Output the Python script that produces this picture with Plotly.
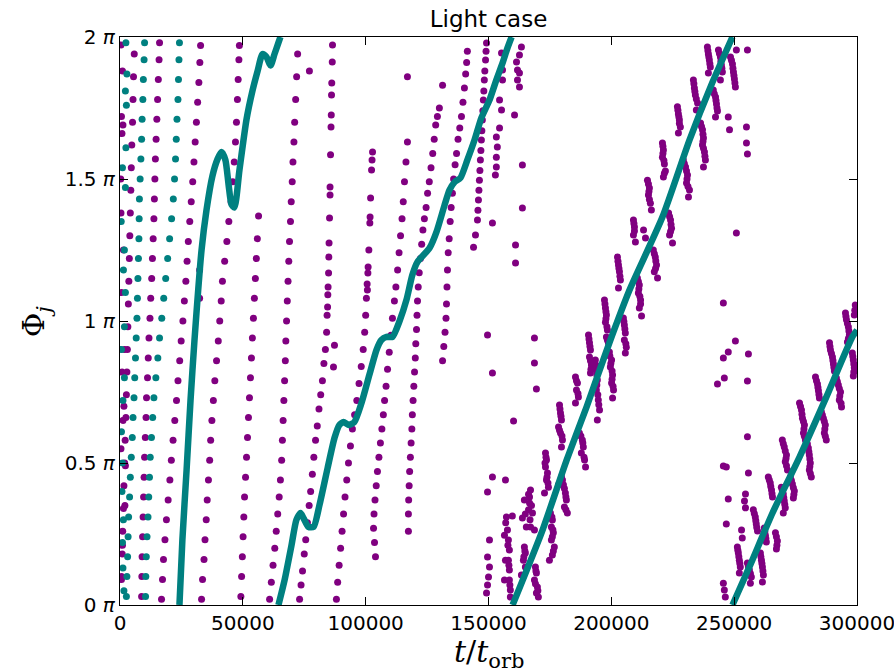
import plotly.graph_objects as go

# time in units of 1000 t_orb, phase Phi_j in units of pi
# ---------------- teal (heavy) body: isolated early dots ----------------
teal_edge = [(1.6,0.05),(1.2,0.13),(1.0,0.22),(1.4,0.30),(0.8,0.40),(1.0,0.50),(0.6,0.61),(1.2,0.72),
             (1.8,0.80),(0.6,0.90),(1.8,0.98),(2.2,1.10),(1.4,1.18),(1.8,1.25),(0.5,1.35),(2.2,1.47),
             (1.0,1.54),(2.4,1.61),(2.6,1.76),(2.2,1.81),(2.8,1.87),(2.4,1.98)]
teal_wrap1 = [(2.6,0.03),(2.8,0.10),(3.1,0.17),(3.3,0.24),(3.5,0.31),(3.9,0.38),(4.2,0.45),(4.6,0.52),
              (5.0,0.59),(5.3,0.66),(5.7,0.73),(6.0,0.80),(6.3,0.87),(6.6,0.94),(6.9,1.01),(7.1,1.08),
              (7.3,1.15),(7.5,1.22),(7.7,1.29),(7.8,1.36),(7.9,1.43),(8.2,1.50),(8.5,1.57),(8.8,1.64),
              (9.0,1.71),(9.3,1.78),(9.5,1.85),(9.8,1.92),(10.0,1.98)]
teal_wrap2 = [(10.4,0.03),(10.5,0.10),(10.7,0.17),(11.0,0.24),(11.4,0.31),(11.7,0.38),(12.0,0.45),(12.3,0.52),
              (12.8,0.59),(13.3,0.66),(13.8,0.73),(14.6,0.80),(15.4,0.87),(16.1,0.94),(17.0,1.01),(17.8,1.08),
              (18.6,1.15),(19.4,1.22),(20.2,1.29),(21.0,1.36),(21.7,1.43),(22.2,1.50),(22.6,1.57),(22.9,1.64),
              (23.2,1.71),(23.6,1.78),(23.8,1.85),(24.0,1.92),(24.2,1.98)]
# ---------------- teal body: dense track (one list per 2*pi wrap) ----------------
teal_track1 = [(24.2,0.0),(25.4,0.23),(27.1,0.475),(28.7,0.72),(30.3,0.93),(33.2,1.25),(35.2,1.39),(37.6,1.51),
               (39.7,1.57),(41.3,1.595),(42.9,1.567),(44.2,1.48),(45.4,1.41),(46.6,1.40),(48.6,1.53),(51.5,1.71),
               (53.9,1.81),(56.0,1.88),(58.0,1.94),(59.6,1.93),(61.3,1.90),(62.9,1.94),(64.5,1.98),(65.3,2.0)]
teal_track2 = [(64.5,0.0),(67.0,0.088),(69.8,0.21),(71.8,0.30),(73.5,0.324),(74.7,0.306),(76.7,0.275),(78.8,0.275),
               (81.2,0.352),(84.5,0.482),(87.3,0.588),(89.3,0.634),(91.0,0.644),(93.0,0.634),(95.4,0.644),(98.3,0.711),
               (101.5,0.81),(104.4,0.898),(106.4,0.933),(108.5,0.944),(110.9,0.944),(113.8,1.0),(116.6,1.074),
               (119.0,1.162),(121.1,1.208),(123.5,1.232),(126.0,1.257),(128.8,1.313),(132.1,1.408),(134.1,1.461),
               (136.2,1.489),(138.6,1.504),(141.4,1.567),(144.3,1.637),(147.1,1.715),(150.4,1.778),(153.2,1.849),
               (155.7,1.908),(157.7,1.961),(159.4,2.0)]
teal_track3 = [(159.8,0.0),(172.0,0.264),(181.8,0.51),(189.9,0.697),(199.2,0.923),(207.4,1.109),(220.8,1.366),
               (231.8,1.637),(240.7,1.831),(249.3,2.0)]
teal_track4 = [(249.3,0.0),(256.2,0.134),(265.6,0.324),(276.6,0.521),(287.5,0.732),(298.1,0.944),(300.0,0.968)]

# ---------------- purple (light) body ----------------
pur_edge = [(0.4,1.972),(1.0,1.88),(0.6,1.72),(1.2,1.69),(0.8,1.66),(0.4,1.38),(1.4,1.25),(0.6,1.10),(1.8,0.90),
            (0.8,0.82),(1.2,0.65),(0.4,0.55),(2.0,0.35),(1.0,0.21),(0.6,0.09),(1.6,0.70),(2.2,0.49),(0.3,1.50)]
pur_s1 = [(0.6,0.10),(0.9,0.18),(1.1,0.26),(1.4,0.34),(1.6,0.42),(1.9,0.50),(2.1,0.58),(2.4,0.66),(2.6,0.74),
          (2.8,0.82),(3.0,0.90),(3.2,0.98),(3.4,1.06),(3.6,1.14),(3.8,1.22),(4.0,1.30),(4.2,1.38),(4.4,1.46),
          (4.6,1.54),(4.8,1.62),(5.1,1.70),(5.3,1.78),(5.5,1.86),(5.8,1.94)]
pur_s2 = [(8.8,0.03),(8.9,0.10),(9.0,0.17),(9.2,0.24),(9.4,0.31),(9.6,0.38),(9.8,0.45),(10.0,0.52),(10.3,0.59),
          (10.6,0.66),(10.8,0.73),(11.2,0.80),(11.5,0.87),(11.8,0.94),(12.2,1.01),(12.5,1.08),(12.9,1.15),
          (13.2,1.22),(13.5,1.29),(13.8,1.36),(14.0,1.43),(14.2,1.50),(14.4,1.57),(14.7,1.64),(15.0,1.71),
          (15.3,1.78),(15.6,1.85),(15.9,1.92),(16.1,1.98)]
pur_s3 = [(16.9,0.02),(17.3,0.09),(17.7,0.16),(18.3,0.23),(18.9,0.30),(19.6,0.37),(20.3,0.44),(20.9,0.51),
          (21.6,0.58),(22.3,0.65),(23.0,0.72),(23.6,0.79),(24.3,0.86),(24.9,0.93),(25.6,1.00),(26.2,1.07),
          (26.8,1.14),(27.3,1.21),(27.8,1.28),(28.4,1.35),(29.0,1.42),(29.6,1.49),(30.1,1.56),(30.6,1.63),
          (31.1,1.70),(31.6,1.77),(32.1,1.84),(32.5,1.91),(32.8,1.97),(32.4,1.18),(32.4,1.08)]
pur_s4 = [(33.2,0.02),(33.6,0.09),(34.2,0.16),(34.6,0.23),(35.1,0.30),(35.5,0.37),(36.0,0.44),(36.5,0.51),
          (36.9,0.58),(37.4,0.65),(38.0,0.72),(38.6,0.79),(39.3,0.86),(40.0,0.93),(40.6,1.00),(41.2,1.07),
          (41.7,1.14),(42.6,1.21),(43.5,1.28),(44.3,1.35),(45.2,1.42),(45.9,1.49),(46.5,1.56),(47.0,1.63),
          (47.4,1.70),(47.8,1.78),(48.1,1.85),(48.4,1.92),(48.6,1.97)]
pur_s5 = [(49.2,0.03),(49.5,0.10),(49.8,0.17),(50.1,0.24),(50.4,0.31),(50.7,0.38),(51.1,0.45),(51.5,0.52),
          (51.9,0.59),(52.3,0.66),(52.7,0.73),(53.1,0.80),(53.5,0.87),(53.9,0.94),(54.3,1.01),(54.7,1.08),
          (55.1,1.15),(55.5,1.22),(55.9,1.29),(56.4,1.37)]
pur_s6 = [(60.9,0.02),(61.6,0.08),(62.3,0.14),(63.0,0.20),(63.6,0.26),(64.2,0.32),(64.8,0.38),(65.3,0.44),
          (65.8,0.51),(66.1,0.58),(66.4,0.65),(66.7,0.72),(67.0,0.79),(67.3,0.86),(67.5,0.93),(67.8,1.00),
          (68.1,1.07),(68.4,1.14),(68.7,1.21),(69.0,1.28),(69.4,1.35),(69.7,1.42),(70.1,1.49),(70.4,1.56),
          (70.8,1.63),(71.1,1.70),(71.5,1.78),(71.9,1.86),(72.3,1.94),(77.1,1.88)]
pur_s7 = [(73.1,0.02),(73.7,0.07),(74.3,0.12),(75.0,0.18),(75.6,0.23),(76.3,0.29),(77.0,0.35),(77.6,0.40),
          (78.3,0.46),(78.9,0.52),(79.6,0.58),(80.3,0.63),(81.0,0.69),(81.7,0.74),(82.4,0.79),(83.0,0.85),
          (83.6,0.90),(84.1,0.96),(84.3,1.02),(84.5,1.049),(84.6,1.092),(84.7,1.12),(84.9,1.169),(85.0,1.225),
          (85.1,1.275),(85.3,1.363),(85.5,1.444),(85.5,1.472),(85.7,1.585),(85.9,1.683),(86.0,1.725),
          (86.1,1.796),(86.2,1.838),(86.4,1.912),(86.5,1.972),(87.3,0.915),(86.9,0.838)]
pur_s8 = [(88.1,0.02),(88.6,0.08),(89.2,0.14),(89.8,0.20),(90.4,0.26),(91.0,0.32),(91.6,0.38),(92.3,0.44),
          (93.0,0.50),(93.8,0.56),(94.6,0.62),(95.5,0.67),(96.4,0.72),(97.3,0.78),(98.2,0.84),(99.0,0.90),
          (99.6,0.96),(100.0,1.02),(100.3,1.08),(100.6,1.13),(100.7,1.109),(100.9,1.169),(101.0,1.19),
          (101.3,1.25),(101.7,1.345),(101.8,1.366),(102.0,1.433),(102.4,1.532),(102.6,1.567),(102.8,1.595)]
pur_s9 = [(104.0,0.17),(103.6,0.22),(103.2,0.27),(103.4,0.32),(103.8,0.37),(104.3,0.42),(104.8,0.47),(105.4,0.52),
          (106.0,0.57),(106.6,0.62),(107.2,0.67),(107.7,0.72),(108.3,0.77),(108.9,0.83),(109.6,0.89),(110.3,0.95),
          (110.9,1.01),(111.7,1.07),(112.3,1.12),(113.0,1.18),(113.6,1.24),(114.2,1.30),(114.8,1.36),(115.3,1.42),
          (115.8,1.49),(116.4,1.56),(117.0,1.63),(117.0,1.86)]
pur_s10 = [(117.4,0.26),(117.4,0.32),(117.5,0.37),(117.7,0.42),(117.9,0.47),(118.2,0.52),(118.5,0.57),(118.8,0.62),
           (119.0,0.67),(119.3,0.72),(119.6,0.77),(119.9,0.82),(120.2,0.87),(120.4,0.92),(120.7,0.97),(120.9,1.02),
           (121.1,1.07),(121.4,1.12),(121.8,1.17),(122.3,1.22),(122.8,1.27),(123.3,1.32),(123.9,1.36),(124.6,1.40),
           (125.2,1.45),(125.9,1.49),(126.6,1.54),(127.3,1.59),(127.9,1.64),(128.5,1.69),(129.2,1.72),(130.0,1.75),
           (131.3,1.83)]
pur_s11 = [(131.3,0.86),(131.8,0.91),(132.3,0.96),(132.7,1.01),(132.9,1.06),(133.1,1.12),(133.3,1.18),(133.6,1.24),
           (134.0,1.29),(134.4,1.35),(134.8,1.40),(135.3,1.45),(135.8,1.50),(136.4,1.55),(137.0,1.59),(137.6,1.64),
           (138.3,1.68),(139.0,1.72),(139.6,1.77),(140.2,1.82),(140.7,1.87),(141.1,1.91),(141.4,1.95)]
pur_s12 = [(143.9,1.26),(144.7,1.303),(145.5,1.356),(145.7,1.39),(145.9,1.426),(146.1,1.46),(146.3,1.496),
           (146.5,1.53),(146.7,1.567),(146.9,1.60),(147.1,1.637),(147.3,1.67),(147.5,1.708),(147.7,1.74),
           (147.9,1.778),(148.1,1.81),(148.3,1.849),(148.5,1.88),(148.8,1.919),(149.0,1.95),(149.2,1.979)]
pur_s13 = [(155.3,1.944),(155.7,1.884),(155.7,1.849),(154.5,1.778),(155.3,1.743),(154.5,1.68),(153.2,1.648),
           (153.6,1.613),(153.2,1.577),(153.2,1.542),(152.8,1.514),(163.4,1.965),(162.6,1.937),(161.4,1.912),
           (161.8,1.884),(162.6,1.873),(161.8,1.849),(162.6,1.824),(160.6,1.725),(163.8,1.549),(163.8,1.398),
           (161.0,1.268),(161.0,1.204),(151.6,1.345)]
pur_scatter_mid = [(149.6,0.951),(151.6,0.817),(160.2,0.648),(151.6,0.451),(149.6,0.398),(156.9,0.44),
                   (150.4,0.229),(149.6,0.169),(150.4,0.134),(150.0,0.099),(149.6,0.07),(149.2,0.042),
                   (168.7,0.94),(168.7,0.852),(169.5,0.761),(159.7,0.313)]
# cloud hugging the third teal wrap
pur_cloud3 = [(157.3,0.31),(157.7,0.264),(158.1,0.229),(158.5,0.194),(158.1,0.158),(158.5,0.123),(158.5,0.088),
              (158.9,0.053),(158.9,0.028),(156.5,0.246),(156.9,0.158),(156.5,0.088),
              (167.1,0.405),(166.7,0.38),(166.7,0.359),(166.3,0.335),(167.9,0.324),(167.1,0.275),(165.4,0.275),
              (163.8,0.306),(168.7,0.264),(164.6,0.37),
              (164.6,0.204),(165.0,0.183),(164.2,0.158),(165.0,0.134),(163.4,0.106),
              (169.1,0.134),(169.5,0.113),(168.7,0.088),(169.9,0.063),(169.5,0.042),(170.3,0.028),
              (173.2,0.535),(173.6,0.511),(173.2,0.486),(174.0,0.465),(173.6,0.44),(174.4,0.415),(172.8,0.394),
              (175.2,0.324),(176.0,0.299),(175.6,0.275),(176.4,0.254),(175.6,0.229),(176.8,0.204),(176.0,0.176),(174.8,0.158),
              (178.9,0.704),(179.3,0.676),(179.7,0.651),(178.5,0.627),(179.3,0.606),(180.1,0.581),(179.7,0.556),
              (179.7,0.451),(180.5,0.423),(181.3,0.394),(181.7,0.37),(180.9,0.345),(182.1,0.324),(178.5,0.423),
              (185.4,0.803),(186.2,0.782),(185.8,0.757),(186.6,0.732),(185.4,0.711),
              (187.0,0.606),(188.2,0.581),(188.6,0.556),(187.8,0.535),(189.1,0.511),(189.5,0.486),
              (190.7,0.951),(191.1,0.923),(191.5,0.898),(191.1,0.873),(191.9,0.845),(191.5,0.817),
              (193.5,0.863),(193.9,0.827),(194.3,0.792),(193.9,0.757),(194.7,0.722),(195.2,0.687),(194.3,0.651),
              (197.2,1.074),(197.6,1.046),(198.0,1.021),(197.6,0.996),(198.4,0.968),(198.0,0.944),(198.8,0.923),
              (199.2,0.891),(200.1,0.863),(199.6,0.838),(200.5,0.81),(200.1,0.782),(200.9,0.757),(200.5,0.729),
              (202.5,1.225),(202.9,1.197),(203.3,1.173),(203.7,1.144),(202.9,1.116),
              (204.9,1.011),(205.3,0.986),(205.7,0.958),(205.3,0.933),(206.1,0.908),(205.7,0.887),
              (210.6,1.151),(211.4,1.127),(211.0,1.099),(211.9,1.074),(211.4,1.046),(212.3,1.018),
              (209.0,1.356),(209.4,1.331),(209.0,1.303),(209.8,1.278),(213.1,1.32),(213.9,1.292),
              (214.7,1.496),(215.5,1.468),(215.1,1.444),(215.9,1.415),(216.3,1.391),
              (217.1,1.25),(217.9,1.225),(218.4,1.197),(217.5,1.173),(218.8,1.151),
              (220.8,1.627),(221.2,1.602),(220.8,1.577),(221.6,1.553),(222.0,1.528),(221.2,1.507),
              (223.3,1.38),(224.1,1.356),(224.5,1.327),(223.7,1.303),(224.9,1.275),
              (226.9,1.754),(227.3,1.729),(227.7,1.708),(228.1,1.683),(227.3,1.662),
              (229.3,1.567),(230.2,1.542),(231.0,1.514),(230.6,1.486),(231.8,1.461),(231.4,1.437),
              (233.4,1.849),(233.8,1.82),(234.2,1.796),(235.1,1.768),(234.6,1.743),
              (236.3,1.697),(237.1,1.673),(237.5,1.644),(237.1,1.62),(237.9,1.595),(238.3,1.567),(237.5,1.542),
              (239.1,1.965),(239.5,1.94),(239.9,1.919),(240.3,1.894),(239.5,1.873),
              (241.5,1.813),(242.4,1.789),(242.8,1.764),(243.2,1.739),(242.4,1.718),
              (243.6,1.954),(244.4,1.93),(244.8,1.901),(245.2,1.877),(244.4,1.849),
              (248.5,1.93),(249.3,1.905),(249.7,1.877),(250.1,1.852),(250.5,1.824)]
pur_cloud3_more = [(157.0,0.29),(157.9,0.21),(158.3,0.14),(158.7,0.07),(166.3,0.39),(167.5,0.35),(166.9,0.30),
                   (165.0,0.32),(164.8,0.19),(164.4,0.17),(169.3,0.12),(169.1,0.075),(170.1,0.05),(173.4,0.52),
                   (173.0,0.50),(173.8,0.45),(174.2,0.43),(175.8,0.31),(176.2,0.265),(176.0,0.24),(176.4,0.19),
                   (179.1,0.69),(179.5,0.665),(178.9,0.615),(179.9,0.595),(180.1,0.44),(180.9,0.41),(181.5,0.38),
                   (181.5,0.335),(185.8,0.79),(186.4,0.745),(187.6,0.595),(188.4,0.57),(188.9,0.52),(190.9,0.937),
                   (191.3,0.91),(191.5,0.86),(191.7,0.83),(193.7,0.845),(194.1,0.81),(194.1,0.775),(194.5,0.74),
                   (194.9,0.705),(197.4,1.06),(197.8,1.033),(197.8,1.008),(198.2,0.98),(198.4,0.933),(199.4,0.877),
                   (199.8,0.85),(200.3,0.824),(200.3,0.795),(200.7,0.77),(202.7,1.21),(203.1,1.185),(203.5,1.158),
                   (205.1,0.998),(205.5,0.972),(205.9,0.92),(211.0,1.139),(211.2,1.113),(211.6,1.087),(211.9,1.06),
                   (209.2,1.343),(209.4,1.317),(215.1,1.482),(215.3,1.456),(215.5,1.428),(217.5,1.237),
                   (218.1,1.211),(218.0,1.185),(221.0,1.615),(221.0,1.59),(221.4,1.565),(221.6,1.52),(223.7,1.368),
                   (224.3,1.34),(224.1,1.315),(227.1,1.742),(227.5,1.718),(227.7,1.695),(229.7,1.555),(230.6,1.528),
                   (230.8,1.5),(231.2,1.474),(233.6,1.835),(234.0,1.808),(234.6,1.782),(236.7,1.685),(237.3,1.658),
                   (237.3,1.632),(237.5,1.608),(238.1,1.58),(239.3,1.952),(239.7,1.93),(240.1,1.906),(241.9,1.8),
                   (242.6,1.776),(243.0,1.75),(244.0,1.942),(244.6,1.915),(245.0,1.89),(248.9,1.918),(249.5,1.89),
                   (249.9,1.864),(250.3,1.838)]
pur_scatter_late = [(250.9,1.954),(255.4,1.954),(247.6,1.718),(248.1,1.673),(255.0,1.683),(255.0,1.627),
                    (255.4,1.588),(250.9,1.31),(245.6,1.063),(250.5,0.93),(247.6,0.891),(245.6,0.87),
                    (255.8,0.884),(246.0,0.799),(243.2,0.778),(255.4,0.789),(255.4,0.592),(245.6,0.489),
                    (246.8,0.486),(255.8,0.465),(247.6,0.373),(254.6,0.391),(254.2,0.366),(254.6,0.342),
                    (246.8,0.285)]
# cloud hugging the fourth teal wrap
pur_cloud4 = [(245.6,0.077),(246.0,0.053),(246.4,0.028),
              (251.3,0.204),(251.7,0.183),(252.1,0.158),(252.5,0.134),(252.1,0.113),(253.0,0.264),(253.3,0.236),
              (255.4,0.148),(256.2,0.123),(257.0,0.099),(256.6,0.077),
              (257.8,0.335),(258.6,0.31),(259.0,0.285),(259.5,0.261),
              (260.7,0.183),(261.1,0.158),(261.5,0.134),(261.9,0.106),(261.5,0.081),
              (262.3,0.271),(262.7,0.246),(263.1,0.222),
              (263.9,0.451),(264.7,0.43),(265.2,0.405),(265.6,0.38),
              (266.8,0.254),(267.6,0.225),(267.2,0.197),
              (269.2,0.415),(270.0,0.391),(270.4,0.366),(270.8,0.342),(270.0,0.324),
              (269.6,0.581),(270.4,0.556),(271.3,0.528),(270.8,0.504),(271.7,0.475),
              (272.9,0.451),(273.7,0.426),(274.5,0.401),(274.1,0.377),
              (276.6,0.711),(277.4,0.687),(277.8,0.658),(278.6,0.634),(278.2,0.606),(279.0,0.581),
              (279.4,0.581),(280.2,0.553),(280.6,0.528),(281.0,0.5),(280.6,0.475),(281.4,0.451),
              (283.1,0.803),(283.9,0.778),(284.3,0.754),(284.7,0.729),
              (285.5,0.68),(286.3,0.658),(287.1,0.634),(286.7,0.606),(287.5,0.581),
              (288.8,0.923),(289.2,0.898),(290.0,0.873),(290.4,0.849),(290.8,0.824),
              (291.6,0.799),(292.4,0.775),(293.3,0.75),(292.8,0.722),(293.7,0.697),
              (295.3,1.028),(295.7,1.004),(296.5,0.979),(296.9,0.951),(296.1,0.926),
              (298.1,0.887),(298.5,0.863),(298.9,0.835),(298.5,0.806),(299.3,1.056),(298.9,1.021)]
pur_cloud4_more = [(251.5,0.193),(251.9,0.17),(252.3,0.146),(255.8,0.135),(256.6,0.111),(258.2,0.322),
                   (258.8,0.297),(259.2,0.273),(260.9,0.17),(261.3,0.146),(261.7,0.12),(262.5,0.258),
                   (262.9,0.234),(264.3,0.44),(264.9,0.417),(265.4,0.392),(267.2,0.24),(267.4,0.21),
                   (269.6,0.403),(270.2,0.378),(270.6,0.354),(270.0,0.568),(270.8,0.542),(271.1,0.516),
                   (271.3,0.49),(273.3,0.438),(274.1,0.413),(274.3,0.389),(277.0,0.699),(277.6,0.672),
                   (278.2,0.646),(278.4,0.62),(278.6,0.594),(279.8,0.567),(280.4,0.54),(280.8,0.514),
                   (280.8,0.488),(281.0,0.463),(283.5,0.79),(284.1,0.766),(284.5,0.741),(285.9,0.669),
                   (286.7,0.646),(286.9,0.62),(287.1,0.594),(289.0,0.91),(289.6,0.886),(290.2,0.861),
                   (290.6,0.836),(292.0,0.787),(292.8,0.762),(293.0,0.736),(293.5,0.71),(295.5,1.016),
                   (296.1,0.991),(296.7,0.965),(296.5,0.938),(298.3,0.875),(298.7,0.849),(298.7,0.82),
                   (299.1,1.038)]

x_ticks = [0, 50000, 100000, 150000, 200000, 250000, 300000]
x_tick_labels = ["0", "50000", "100000", "150000", "200000", "250000", "300000"]
y_ticks = [0, 0.5, 1, 1.5, 2]
y_tick_labels = ["0 <i>π</i>", "0.5 <i>π</i>", "1 <i>π</i>", "1.5 <i>π</i>", "2 <i>π</i>"]

PURPLE = "#800080"
TEAL = "#008080"
KILO = 1000.0

purple_groups = [pur_edge, pur_s1, pur_s2, pur_s3, pur_s4, pur_s5, pur_s6, pur_s7, pur_s8, pur_s9,
                 pur_s10, pur_s11, pur_s12, pur_s13, pur_scatter_mid, pur_cloud3, pur_cloud3_more,
                 pur_scatter_late, pur_cloud4, pur_cloud4_more]
teal_dot_groups = [teal_edge, teal_wrap1, teal_wrap2]
teal_tracks = [teal_track1, teal_track2, teal_track3, teal_track4]

fig = go.Figure()
for g in purple_groups:
    fig.add_trace(go.Scatter(x=[p[0] * KILO for p in g], y=[p[1] for p in g], mode="markers",
                             marker=dict(color=PURPLE, size=7, line=dict(width=0)),
                             showlegend=False, hoverinfo="skip", cliponaxis=True))
for g in teal_dot_groups:
    fig.add_trace(go.Scatter(x=[p[0] * KILO for p in g], y=[p[1] for p in g], mode="markers",
                             marker=dict(color=TEAL, size=7, line=dict(width=0)),
                             showlegend=False, hoverinfo="skip", cliponaxis=True))
for g in teal_tracks:
    fig.add_trace(go.Scatter(x=[p[0] * KILO for p in g], y=[p[1] for p in g], mode="lines",
                             line=dict(color=TEAL, width=6.5, shape="spline", smoothing=0.6),
                             showlegend=False, hoverinfo="skip", cliponaxis=True))

axis_font = dict(family="DejaVu Sans", size=20, color="black")
common_axis = dict(ticks="inside", ticklen=8, tickwidth=1, tickcolor="black", showline=True,
                   linecolor="black", linewidth=1.2, mirror="allticks", showgrid=False,
                   zeroline=False, tickfont=axis_font, automargin=False, ticklabeloverflow="allow")
fig.update_layout(
    width=894, height=668,
    margin=dict(l=120, r=37, t=37, b=63, pad=0, autoexpand=False),
    paper_bgcolor="white", plot_bgcolor="white",
    title=dict(text="Light case", x=0.5, xref="paper", xanchor="center",
               y=1 - 19 / 668, yref="container", yanchor="middle", automargin=False,
               font=dict(family="DejaVu Sans", size=23, color="black")),
    xaxis=dict(range=[0, 300000], tickvals=x_ticks, ticktext=x_tick_labels, **common_axis),
    yaxis=dict(range=[0, 2], tickvals=y_ticks, ticktext=y_tick_labels, **common_axis),
)
fig.add_annotation(text="<i>t</i>/<i>t</i><sub>orb</sub>", x=0.5, xref="paper", y=-0.085, yref="paper",
                   xanchor="center", yanchor="middle", showarrow=False,
                   font=dict(family="DejaVu Serif", size=30, color="black"))
fig.add_annotation(text="Φ<sub><i>j</i></sub>", x=-0.115, xref="paper", y=0.5, yref="paper",
                   xanchor="center", yanchor="middle", showarrow=False, textangle=-90,
                   font=dict(family="DejaVu Serif", size=30, color="black"))
fig.write_html("out.html")
